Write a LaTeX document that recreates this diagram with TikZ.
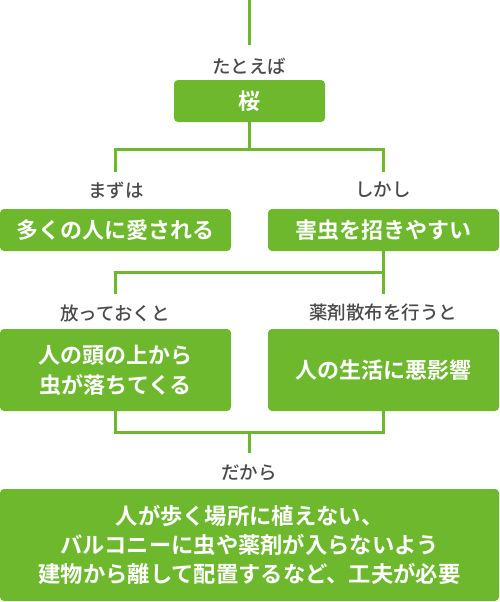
\documentclass[tikz,border=0pt]{standalone}
\usepackage{fontspec}
\setmainfont{Noto Sans CJK JP}
\newfontfamily\jpb{Noto Sans CJK JP Bold}
\newfontfamily\jpm{Noto Sans CJK JP Medium}
\definecolor{lgreen}{HTML}{6DB82C}
\definecolor{lgray}{HTML}{4A4A4A}
\begin{document}
\begin{tikzpicture}[x=1pt,y=-1pt,
  box/.style={fill=lgreen,rounded corners=4pt,text=white,inner sep=0pt,
    font=\jpb\fontsize{22}{30}\selectfont,align=center},
  lbl/.style={text=lgray,inner sep=0pt,font=\jpm\fontsize{18.5}{20}\selectfont},
  conn/.style={draw=lgreen,line width=3pt}]
\useasboundingbox (0,0) rectangle (499,602);
% boxes
\node[box,minimum width=151pt,minimum height=42pt] (sakura) at (249.5,101) {桜};
\node[box,minimum width=231pt,minimum height=42pt] (love) at (115.5,230) {多くの人に愛される};
\node[box,minimum width=231pt,minimum height=42pt] (pest) at (383.5,230) {害虫を招きやすい};
\node[box,minimum width=231pt,minimum height=82pt] (fall) at (115.5,370) {人の頭の上から\\虫が落ちてくる};
\node[box,minimum width=231pt,minimum height=82pt] (bad) at (383.5,370) {人の生活に悪影響};
\node[box,minimum width=499pt,minimum height=112pt,font=\jpb\fontsize{22.3}{29}\selectfont] (final) at (249.5,545) {人が歩く場所に植えない、\\バルコニーに虫や薬剤が入らないよう\\建物から離して配置するなど、工夫が必要};
% labels
\node[lbl] (l1) at (249,66) {たとえば};
\node[lbl] (l2) at (116,190) {まずは};
\node[lbl] (l3) at (383,190) {しかし};
\node[lbl] (l4) at (115,313) {放っておくと};
\node[lbl] (l5) at (383,313) {薬剤散布を行うと};
\node[lbl] (l6) at (249,473) {だから};
% coordinates
\coordinate (top) at (249,0);
\coordinate (topend) at (249,45);
\coordinate (b1) at (249,149);
\coordinate (b1l) at (115,149);
\coordinate (b1r) at (383,149);
\coordinate (e1l) at (115,172);
\coordinate (e1r) at (383,172);
\coordinate (b2) at (383,272);
\coordinate (b2l) at (115,272);
\coordinate (e2l) at (115,294);
\coordinate (e2r) at (383,294);
\coordinate (s3l) at (115,411);
\coordinate (s3r) at (383,411);
\coordinate (b3l) at (115,432);
\coordinate (b3r) at (383,432);
\coordinate (b3) at (249,432);
\coordinate (e3) at (249,453);
% connectors
\draw[conn] (top) -- (topend);
\draw[conn] (sakura.south -| b1) -- (b1);
\draw[conn] (e1l) -- (b1l) -- (b1r) -- (e1r);
\draw[conn] (pest.south -| b2) -- (e2r);
\draw[conn] (b2) -- (b2l) -- (e2l);
\draw[conn] (s3l) -- (b3l) -- (b3r) -- (s3r);
\draw[conn] (b3) -- (e3);
\end{tikzpicture}
\end{document}
